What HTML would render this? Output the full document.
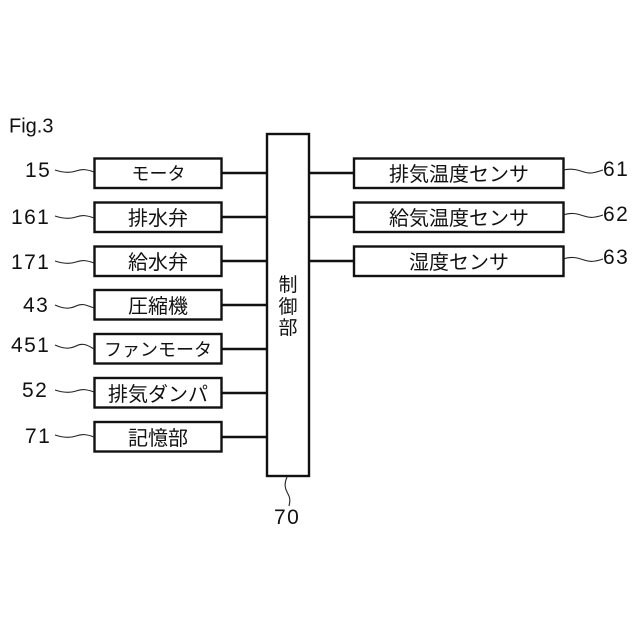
<!DOCTYPE html>
<html lang="ja">
<head>
<meta charset="utf-8">
<style>
html,body{margin:0;padding:0;background:#fff;}
svg{display:block;}
text{font-family:"Liberation Sans","Noto Sans CJK JP",sans-serif;fill:#111;}
.j{font-size:20px;text-anchor:middle;}
.k{font-size:18px;text-anchor:middle;}
.n{font-size:21px;letter-spacing:1.4px;}
rect{fill:#fff;stroke:#111;stroke-width:2.4;}
.l{stroke:#111;stroke-width:2.4;fill:none;}
.w{stroke:#222;stroke-width:1.1;fill:none;}
</style>
</head>
<body>
<svg width="640" height="640" viewBox="0 0 640 640" xmlns="http://www.w3.org/2000/svg">
<rect x="0" y="0" width="640" height="640" style="fill:#fff;stroke:none"/>
<text x="9" y="132.500" style="font-size:20px">Fig.3</text>

<path class="l" d="M221 173H267M221 217H267M221 261H267M221 305H267M221 349H267M221 393H267M221 437H267M309 173H354M309 217H354M309 261H354"/>

<rect x="267" y="134" width="42" height="342"/>
<rect x="94.500" y="158.500" width="127" height="29.500"/>
<rect x="94.500" y="202.500" width="127" height="29.500"/>
<rect x="94.500" y="246.500" width="127" height="29.500"/>
<rect x="94.500" y="290" width="127" height="29.500"/>
<rect x="94.500" y="334" width="127" height="29.500"/>
<rect x="94.500" y="378" width="127" height="29.500"/>
<rect x="94.500" y="422" width="127" height="29.500"/>
<rect x="354" y="158.500" width="209.500" height="29.500"/>
<rect x="354" y="202.500" width="209.500" height="29.500"/>
<rect x="354" y="246.500" width="209.500" height="29.500"/>

<text class="k" x="158.500" y="180">モータ</text>
<text class="j" x="158" y="225">排水弁</text>
<text class="j" x="158" y="269">給水弁</text>
<text class="j" x="158" y="313">圧縮機</text>
<text class="k" x="158" y="356">ファンモータ</text>
<text class="j" x="158" y="401">排気ダンパ</text>
<text class="j" x="158" y="445">記憶部</text>
<text class="j" x="459" y="181">排気温度センサ</text>
<text class="j" x="459" y="225">給気温度センサ</text>
<text class="j" x="459" y="269">湿度センサ</text>
<text class="j" x="288" y="291" style="font-size:19px">制</text>
<text class="j" x="288" y="313" style="font-size:19px">御</text>
<text class="j" x="288" y="334" style="font-size:19px">部</text>

<text class="n" x="25" y="177">15</text>
<text class="n" x="11" y="224">161</text>
<text class="n" x="11" y="269">171</text>
<text class="n" x="23" y="312">43</text>
<text class="n" x="11" y="352">451</text>
<text class="n" x="22" y="397">52</text>
<text class="n" x="25" y="443">71</text>
<text class="n" x="603" y="176">61</text>
<text class="n" x="603" y="221">62</text>
<text class="n" x="603" y="264">63</text>
<text class="n" x="274" y="524">70</text>

<path class="w" d="M55 170C64 173 70 173 76 171S86 169 94 172"/>
<path class="w" d="M55 216C64 219 70 219 76 217S86 215 94 218"/>
<path class="w" d="M55 261C64 264 70 264 76 262S86 260 94 263"/>
<path class="w" d="M55 305C64 309 70 309 76 306S86 305 94 308"/>
<path class="w" d="M55 345C64 349 70 349 76 346S86 344 94 349"/>
<path class="w" d="M55 390C64 393 70 393 76 391S86 389 94 392"/>
<path class="w" d="M55 435C64 438 70 438 76 436S86 434 94 437"/>
<path class="w" d="M563 170C572 168 578 170 584 172S594 173 603 170"/>
<path class="w" d="M563 215C572 212 578 214 584 216S594 218 603 215"/>
<path class="w" d="M563 259C572 256 578 258 584 260S594 262 603 259"/>
<path class="w" d="M287 477C284 484 285 488 287 492S291 498 289 506"/>
</svg>
</body>
</html>
